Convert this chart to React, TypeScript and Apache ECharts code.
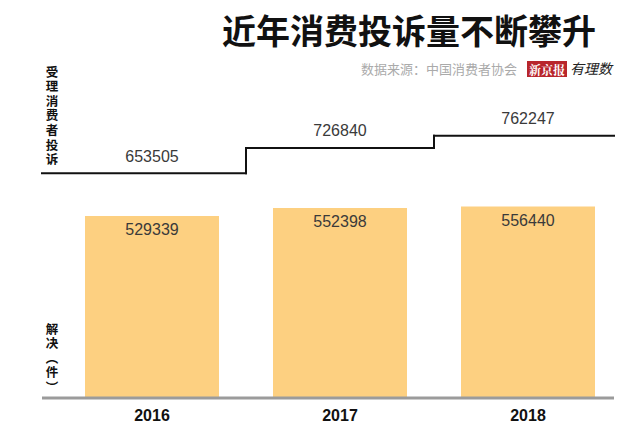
import React, { useEffect, useRef } from "react";
import * as echarts from "echarts";

const categories = ["2016", "2017", "2018"];
const resolvedValues = [529339, 552398, 556440];
const acceptedValues = [653505, 726840, 762247];
const titleText = "近年消费投诉量不断攀升";
const sourceText = "数据来源：中国消费者协会";
const leftTopLabel = ["受", "理", "消", "费", "者", "投", "诉"];
const leftBottomLabel = ["解", "决", "︵", "件", "︶"];

const LINE_LEFT = 42;
const LINE_RIGHT = 614;
const AXIS_Y = 398;

export default function App() {
  const ref = useRef<HTMLDivElement>(null);
  useEffect(() => {
    if (!ref.current) return;
    const chart = echarts.init(ref.current, null, { renderer: "svg" });
    const last = acceptedValues.length - 1;
    const numFont = "'Liberation Sans', 'DejaVu Sans', sans-serif";
    const cjkFont = "'Noto Sans CJK SC', 'Noto Sans', sans-serif";
    const vertical = (chars: string[], top: number) =>
      chars.map((c, k) => ({
        type: "text",
        x: 52,
        y: top + k * 14.6,
        style: {
          text: c,
          textAlign: "center",
          textVerticalAlign: "middle",
          fontSize: 12.5,
          fontWeight: "bold",
          fill: "#111",
          fontFamily: cjkFont,
        },
      }));
    chart.setOption({
      animation: false,
      backgroundColor: "#ffffff",
      grid: { left: 58, right: 18, top: 54, bottom: 28 },
      xAxis: {
        type: "category",
        data: categories,
        axisLine: { show: false },
        axisTick: { show: false },
        axisLabel: {
          margin: 9,
          fontSize: 16,
          fontWeight: "bold",
          color: "#111",
          fontFamily: numFont,
        },
      },
      yAxis: {
        type: "value",
        min: 0,
        max: 1000000,
        show: false,
        splitLine: { show: false },
      },
      series: [
        {
          type: "bar",
          data: resolvedValues,
          barWidth: 134,
          itemStyle: { color: "#fdd081" },
          label: {
            show: true,
            position: "insideTop",
            distance: 6,
            fontSize: 16,
            color: "#3a3a3a",
            fontFamily: numFont,
          },
          z: 2,
        },
        {
          type: "custom",
          data: acceptedValues.map((v, i) => [i, v]),
          encode: { x: 0, y: 1 },
          z: 3,
          renderItem: (params: any, api: any) => {
            const i = params.dataIndex;
            const v = api.value(1);
            const pt = api.coord([i, v]);
            const band = api.size([1, 0])[0];
            let x0 = pt[0] - band / 2;
            let x1 = pt[0] + band / 2;
            if (i === 0) x0 = LINE_LEFT;
            if (i === last) x1 = LINE_RIGHT;
            const stroke = { stroke: "#111", lineWidth: 2, lineCap: "square" };
            const children: any[] = [
              { type: "line", shape: { x1: x0, y1: pt[1], x2: x1, y2: pt[1] }, style: stroke },
              {
                type: "text",
                x: pt[0],
                y: pt[1] - 9,
                style: {
                  text: String(v),
                  textAlign: "center",
                  textVerticalAlign: "bottom",
                  fontSize: 16,
                  fill: "#3a3a3a",
                  fontFamily: numFont,
                },
              },
            ];
            if (i > 0) {
              const prev = api.coord([i, acceptedValues[i - 1]]);
              children.push({
                type: "line",
                shape: { x1: x0, y1: prev[1], x2: x0, y2: pt[1] },
                style: stroke,
              });
            }
            return { type: "group", children };
          },
        },
      ],
      graphic: [
        {
          type: "line",
          shape: { x1: LINE_LEFT, y1: AXIS_Y, x2: LINE_RIGHT, y2: AXIS_Y },
          style: { stroke: "#9b9b9b", lineWidth: 3 },
          z: 10,
        },
        {
          type: "text",
          right: 44,
          top: 12,
          style: {
            text: titleText,
            fontSize: 34,
            fontWeight: "bold",
            fill: "#111",
            fontFamily: cjkFont,
          },
        },
        {
          type: "text",
          x: 517,
          y: 68,
          style: {
            text: sourceText,
            textAlign: "right",
            textVerticalAlign: "middle",
            fontSize: 13,
            fill: "#aaaaaa",
            fontFamily: cjkFont,
          },
        },
        {
          type: "rect",
          shape: { x: 527, y: 61, width: 40, height: 16 },
          style: { fill: "#b8262c" },
        },
        {
          type: "text",
          x: 547,
          y: 69,
          style: {
            text: "新京报",
            textAlign: "center",
            textVerticalAlign: "middle",
            fontSize: 12,
            fontWeight: "bold",
            fill: "#ffffff",
            fontFamily: "'Noto Serif CJK SC', 'Noto Sans CJK SC', serif",
          },
        },
        {
          type: "text",
          x: 570,
          y: 68,
          style: {
            text: "有理数",
            textVerticalAlign: "middle",
            fontSize: 14,
            fontStyle: "italic",
            fill: "#222",
            fontFamily: cjkFont,
          },
        },
        ...vertical(leftTopLabel, 71),
        ...vertical(leftBottomLabel, 328),
      ],
    });
    return () => chart.dispose();
  }, []);
  return <div ref={ref} style={{ width: 640, height: 426, position: "absolute", left: 0, top: 0 }} />;
}
